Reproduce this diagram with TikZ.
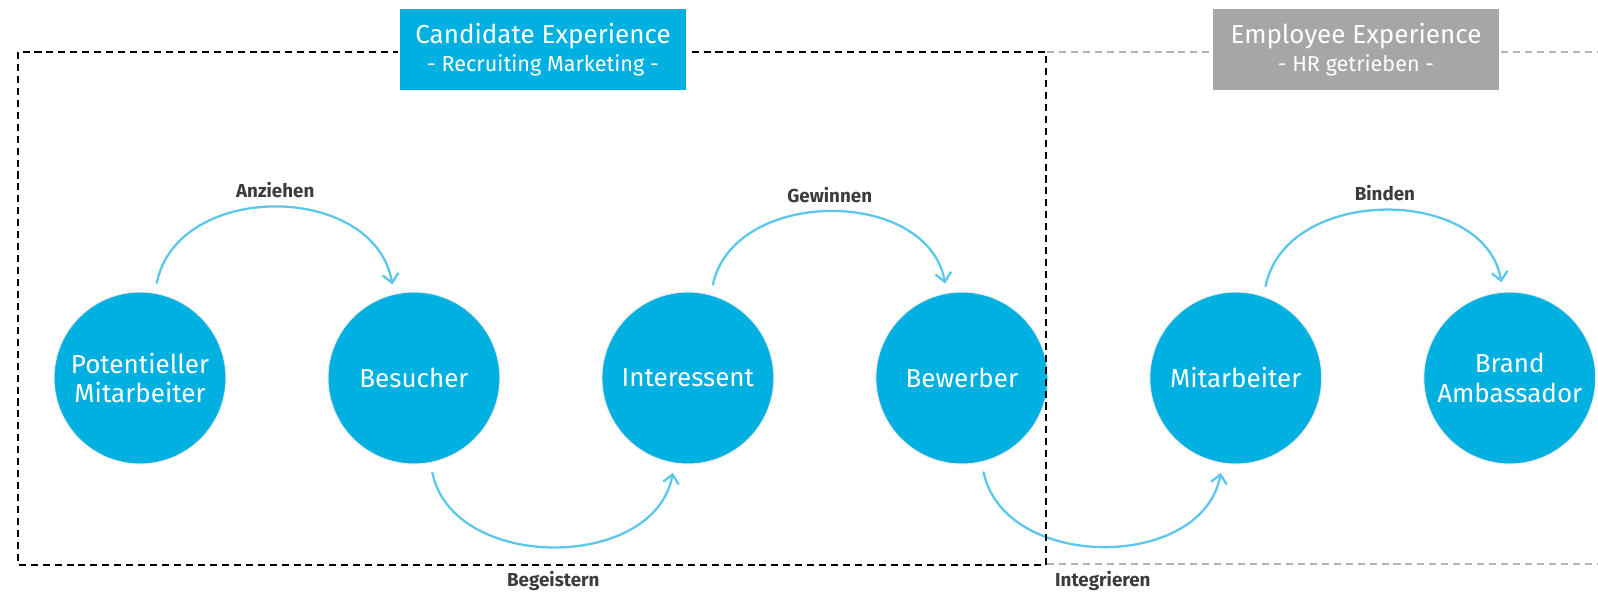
\documentclass[tikz,border=0pt]{standalone}
\usepackage{fontspec}
\setmainfont{Fira Sans}
\usepackage{tikz}
\usetikzlibrary{arrows.meta}
\definecolor{cxblue}{HTML}{00B0E0}
\definecolor{cxarrow}{HTML}{5BC7EA}
\definecolor{cxgray}{HTML}{A6A6A6}
\definecolor{cxdash}{HTML}{B4B4B4}
\definecolor{cxtext}{HTML}{3C3C3C}
\tikzstyle{stage} = [circle, minimum size = 3.44cm, inner sep = 0pt, outer sep = 0.2cm, align = center, text = white, fill = cxblue, draw = black!8, line width = 0.6pt, font = \fontsize{14.8}{17}\selectfont]
\tikzstyle{header} = [rectangle, minimum width = 5.76cm, minimum height = 1.66cm, align = center, text = white, draw = white, line width = 1.5pt, font = \fontsize{12.3}{16}\selectfont]
\tikzstyle{verb} = [text = cxtext, font = \fontsize{10.7}{12}\selectfont\bfseries]
\tikzstyle{arrow} = [line width = 1.3pt, draw = cxarrow, -{Straight Barb[length = 5pt, width = 9pt, line width = 1.3pt]}]
\tikzstyle{phase} = [line width = 1pt, dash pattern = on 4pt off 2.8pt]

\begin{document}
\begin{tikzpicture}[x = 0.02cm, y = -0.02cm, node distance = 5.48cm]
\useasboundingbox (0,0) rectangle (1598,593);

\node(pot) [stage] at (140,378) {Potentieller\\Mitarbeiter};
\node(bes) [stage, right of = pot] {Besucher};
\node(inte)[stage, right of = bes] {Interessent};
\node(bew) [stage, right of = inte] {Bewerber};
\node(mit) [stage, right of = bew] {Mitarbeiter};
\node(bra) [stage, right of = mit] {Brand\\Ambassador};

\draw [arrow] (pot.80) .. controls +(20,-103) and +(-18,-103) .. (bes.103) node[verb, midway, above = 1pt](anz){Anziehen};
\draw [arrow] (bes.-79) .. controls +(20,100) and +(-18,99) .. (inte.-99) node[verb, midway, below = 10pt](beg){Begeistern};
\draw [arrow] (inte.75) .. controls +(20,-98) and +(-18,-97) .. (bew.100) node[verb, midway, above = 1pt](gew){Gewinnen};
\draw [arrow] (bew.-77) .. controls +(20,100) and +(-18,99) .. (mit.-99) node[verb, midway, below = 10pt](integ){Integrieren};
\draw [arrow] (mit.72) .. controls +(20,-102) and +(-16,-97) .. (bra.95) node[verb, midway, above = 1pt](bin){Binden};

\draw [phase, black] (18,52) rectangle (1046,565);
\draw [phase, cxdash] (1047,52) -- (1598,52) (1047,564) -- (1598,564);

\node(cand)[header, fill = cxblue] at (543,49.5) {{\fontsize{14.8}{16}\selectfont Candidate Experience}\\- Recruiting Marketing -};
\node(empl)[header, fill = cxgray] at (1356,49.5) {{\fontsize{14.8}{16}\selectfont Employee Experience}\\- HR getrieben -};

\end{tikzpicture}
\end{document}
